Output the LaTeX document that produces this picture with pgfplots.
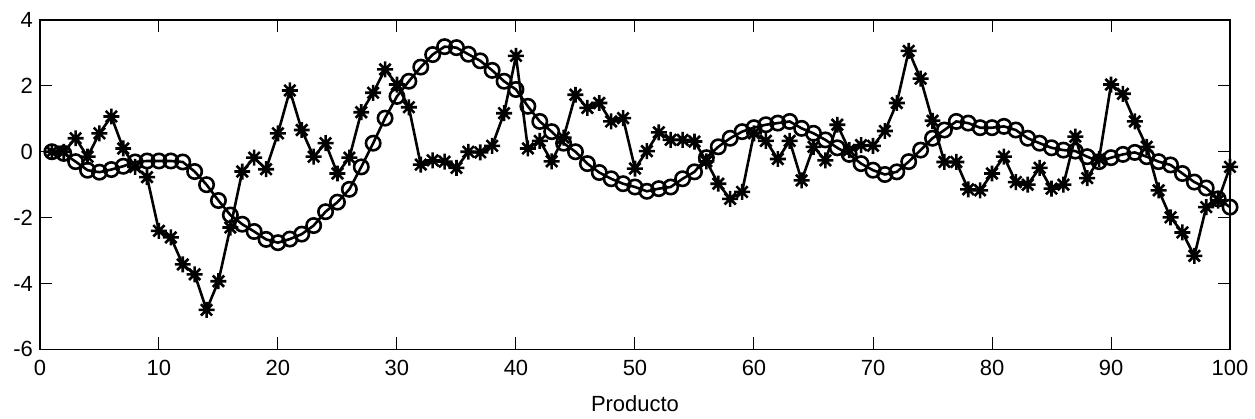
\documentclass[border=0pt]{standalone}
\usepackage{pgfplots}
\pgfplotsset{compat=1.18}
\usepackage{fontspec}
\setmainfont{Liberation Sans}

% 8-armed star like the reference markers
\pgfdeclareplotmark{mstar}{%
  \pgfpathmoveto{\pgfqpoint{-\pgfplotmarksize}{0pt}}\pgfpathlineto{\pgfqpoint{\pgfplotmarksize}{0pt}}%
  \pgfpathmoveto{\pgfqpoint{0pt}{-\pgfplotmarksize}}\pgfpathlineto{\pgfqpoint{0pt}{\pgfplotmarksize}}%
  \pgfpathmoveto{\pgfqpoint{-0.707\pgfplotmarksize}{-0.707\pgfplotmarksize}}\pgfpathlineto{\pgfqpoint{0.707\pgfplotmarksize}{0.707\pgfplotmarksize}}%
  \pgfpathmoveto{\pgfqpoint{-0.707\pgfplotmarksize}{0.707\pgfplotmarksize}}\pgfpathlineto{\pgfqpoint{0.707\pgfplotmarksize}{-0.707\pgfplotmarksize}}%
  \pgfusepathqstroke}

\begin{document}
\begin{tikzpicture}
\begin{axis}[
  scale only axis,
  width=596pt, height=165pt,
  xmin=0, xmax=100, ymin=-6, ymax=4,
  xtick={0,10,...,100}, ytick={-6,-4,...,4},
  tick align=inside, major tick length=6pt,
  tick style={black, line width=0.5pt},
  axis line style={line width=0.6pt},
  xlabel={Producto},
  xlabel style={yshift=-3pt},
  xticklabel style={yshift=-2pt},
  /pgf/number format/assume math mode=true,
  ticklabel style={font=\fontsize{11}{13}\selectfont},
  label style={font=\fontsize{11}{13}\selectfont},
]
% smooth series (circles)
\addplot[black, line width=1.3pt, mark=o, mark size=3.6pt, mark options={line width=1.3pt}] coordinates {
(1,0) (2,-0.05) (3,-0.3) (4,-0.56) (5,-0.62) (6,-0.54) (7,-0.44) (8,-0.31) (9,-0.28) (10,-0.28)
(11,-0.28) (12,-0.31) (13,-0.6) (14,-1.0) (15,-1.48) (16,-1.92) (17,-2.2) (18,-2.42) (19,-2.66) (20,-2.76)
(21,-2.65) (22,-2.5) (23,-2.24) (24,-1.82) (25,-1.53) (26,-1.14) (27,-0.46) (28,0.26) (29,1.02) (30,1.68)
(31,2.14) (32,2.57) (33,2.95) (34,3.19) (35,3.16) (36,2.96) (37,2.76) (38,2.47) (39,2.14) (40,1.89)
(41,1.38) (42,0.92) (43,0.61) (44,0.26) (45,0) (46,-0.36) (47,-0.63) (48,-0.82) (49,-0.97) (50,-1.07)
(51,-1.2) (52,-1.12) (53,-1.07) (54,-0.82) (55,-0.61) (56,-0.18) (57,0.15) (58,0.41) (59,0.61) (60,0.73)
(61,0.82) (62,0.87) (63,0.92) (64,0.71) (65,0.56) (66,0.36) (67,0.12) (68,-0.08) (69,-0.36) (70,-0.56)
(71,-0.69) (72,-0.61) (73,-0.3) (74,0.05) (75,0.41) (76,0.66) (77,0.92) (78,0.87) (79,0.73) (80,0.73)
(81,0.77) (82,0.66) (83,0.41) (84,0.26) (85,0.12) (86,0.05) (87,0.02) (88,-0.15) (89,-0.3) (90,-0.18)
(91,-0.08) (92,-0.02) (93,-0.15) (94,-0.3) (95,-0.4) (96,-0.66) (97,-0.92) (98,-1.1) (99,-1.43) (100,-1.68)
};
% noisy series (stars)
\addplot[black, line width=1.3pt, mark=mstar, mark size=4pt, mark options={line width=1.3pt}] coordinates {
(1,0) (2,0) (3,0.41) (4,-0.15) (5,0.56) (6,1.07) (7,0.1) (8,-0.46) (9,-0.77) (10,-2.4)
(11,-2.6) (12,-3.42) (13,-3.72) (14,-4.8) (15,-3.93) (16,-2.3) (17,-0.6) (18,-0.18) (19,-0.53) (20,0.56)
(21,1.86) (22,0.66) (23,-0.15) (24,0.26) (25,-0.66) (26,-0.18) (27,1.2) (28,1.79) (29,2.5) (30,2.04)
(31,1.35) (32,-0.39) (33,-0.26) (34,-0.3) (35,-0.49) (36,0) (37,-0.02) (38,0.18) (39,1.17) (40,2.91)
(41,0.1) (42,0.33) (43,-0.29) (44,0.43) (45,1.73) (46,1.33) (47,1.48) (48,0.92) (49,1.02) (50,-0.51)
(51,0.02) (52,0.59) (53,0.36) (54,0.36) (55,0.31) (56,-0.29) (57,-0.97) (58,-1.43) (59,-1.22) (60,0.56)
(61,0.33) (62,-0.22) (63,0.33) (64,-0.87) (65,0.15) (66,-0.26) (67,0.82) (68,0.05) (69,0.2) (70,0.18)
(71,0.63) (72,1.48) (73,3.06) (74,2.22) (75,0.94) (76,-0.31) (77,-0.31) (78,-1.14) (79,-1.17) (80,-0.66)
(81,-0.15) (82,-0.92) (83,-1.0) (84,-0.49) (85,-1.12) (86,-1.0) (87,0.46) (88,-0.8) (89,-0.22) (90,2.04)
(91,1.76) (92,0.92) (93,0.15) (94,-1.17) (95,-1.99) (96,-2.45) (97,-3.16) (98,-1.68) (99,-1.48) (100,-0.46)
};
\end{axis}
\path ([xshift=-20pt,yshift=-34.5pt]current axis.south west) rectangle ([xshift=11.5pt,yshift=10pt]current axis.north east);
\end{tikzpicture}
\end{document}
